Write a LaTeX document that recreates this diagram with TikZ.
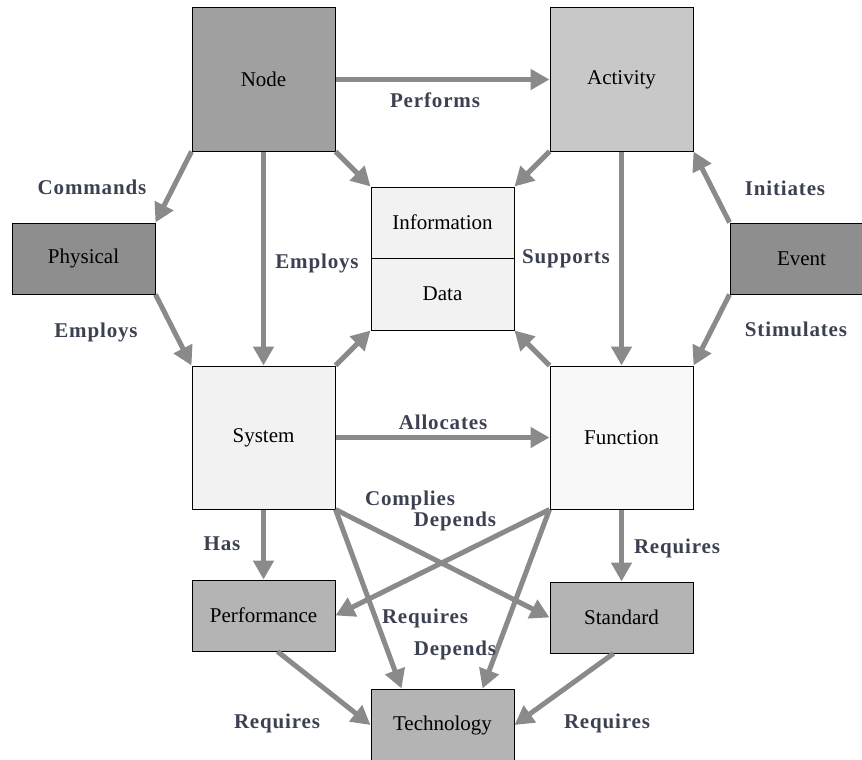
\documentclass[tikz,border=0pt]{standalone}
\usepackage{fontspec}
\setmainfont{Liberation Serif}
\usetikzlibrary{arrows.meta,calc}
\definecolor{arrowcol}{HTML}{8A8A8A}
\definecolor{labcol}{HTML}{3C4152}
\definecolor{cNode}{HTML}{A0A0A0}
\definecolor{cAct}{HTML}{C8C8C8}
\definecolor{cDark}{HTML}{8E8E8E}
\definecolor{cLight}{HTML}{F2F2F2}
\definecolor{cMid}{HTML}{B4B4B4}
\tikzset{
  box/.style={draw=black, line width=1pt, inner sep=0pt, minimum width=143pt, font=\fontsize{21}{25}\selectfont, text=black},
  bigbox/.style={box, minimum height=143pt},
  smallbox/.style={box, minimum height=71pt},
  conn/.style={draw=arrowcol, line width=5pt, -{Triangle[length=19pt,width=20pt]}},
  lab/.style={font=\bfseries\fontsize{21}{25}\selectfont\addfontfeature{LetterSpace=4}, text=labcol, inner sep=0pt}
}
\begin{document}
\begin{tikzpicture}[x=1pt,y=-1pt]
\useasboundingbox (0,0) rectangle (862,760);
\begin{scope}
\clip (0,0) rectangle (862,760);
% boxes
\node[bigbox, fill=cNode] (nodeN) at (263.5,79.5) {Node};
\node[bigbox, fill=cAct] (act) at (621.5,79.5) {Activity};
\node[smallbox, fill=cLight] (info) at (442.5,222.5) {Information};
\node[box, minimum height=72pt, fill=cLight] (data) at (442.5,294) {Data};
\node[smallbox, fill=cDark] (phys) at (83.5,258.5) {Physical};
\node[smallbox, fill=cDark] (event) at (801.5,258.5) {Event};
\node[bigbox, fill=cLight] (sys) at (263.5,437.5) {System};
\node[bigbox, fill=cLight!50!white] (func) at (621.5,437.5) {Function};
\node[smallbox, fill=cMid] (perf) at (263.5,615.5) {Performance};
\node[smallbox, fill=cMid] (std) at (621.5,617.5) {Standard};
\node[box, minimum height=72pt, fill=cMid] (tech) at (442.5,725) {Technology};
% connectors
\draw[conn] (nodeN.east) -- (act.west);
\draw[conn] (nodeN.south west) -- (phys.north east);
\draw[conn] (nodeN.south east) -- (info.north west);
\draw[conn] (nodeN.south) -- (sys.north);
\draw[conn] (act.south west) -- (info.north east);
\draw[conn] (act.south) -- (func.north);
\draw[conn] (event.north west) -- (act.south east);
\draw[conn] (event.south west) -- (func.north east);
\draw[conn] (phys.south east) -- (sys.north west);
\draw[conn] (sys.north east) -- (data.south west);
\draw[conn] (func.north west) -- (data.south east);
\draw[conn] (sys.east) -- (func.west);
\draw[conn] (sys.south) -- (perf.north);
\draw[conn] (func.south) -- (std.north);
\draw[conn] (sys.south east) -- (std.west);
\draw[conn] (func.south west) -- (perf.east);
\draw[conn] (sys.south east) -- ([xshift=31pt]tech.north west);
\draw[conn] (func.south west) -- ([xshift=-32pt]tech.north east);
\draw[conn] ([xshift=14pt]perf.south) -- (tech.west);
\draw[conn] ([xshift=-8pt]std.south) -- (tech.east);
% labels
\node[lab] (l1) at (435,100) {Performs};
\node[lab] (l2) at (92,187) {Commands};
\node[lab] (l3) at (317,263) {Employs};
\node[lab] (l4) at (566,259) {Supports};
\node[lab] (l5) at (785,188) {Initiates};
\node[lab] (l6) at (796,329) {Stimulates};
\node[lab] (l7) at (96,332) {Employs};
\node[lab] (l8) at (443,422) {Allocates};
\node[lab] (l9) at (222,544) {Has};
\node[lab] (l10) at (677,548) {Requires};
\node[lab] (l11) at (410,500) {Complies};
\node[lab] (l12) at (455,521) {Depends};
\node[lab] (l13) at (425,618) {Requires};
\node[lab] (l14) at (455,650) {Depends};
\node[lab] (l15) at (277,723) {Requires};
\node[lab] (l16) at (607,723) {Requires};
\end{scope}
\end{tikzpicture}
\end{document}
